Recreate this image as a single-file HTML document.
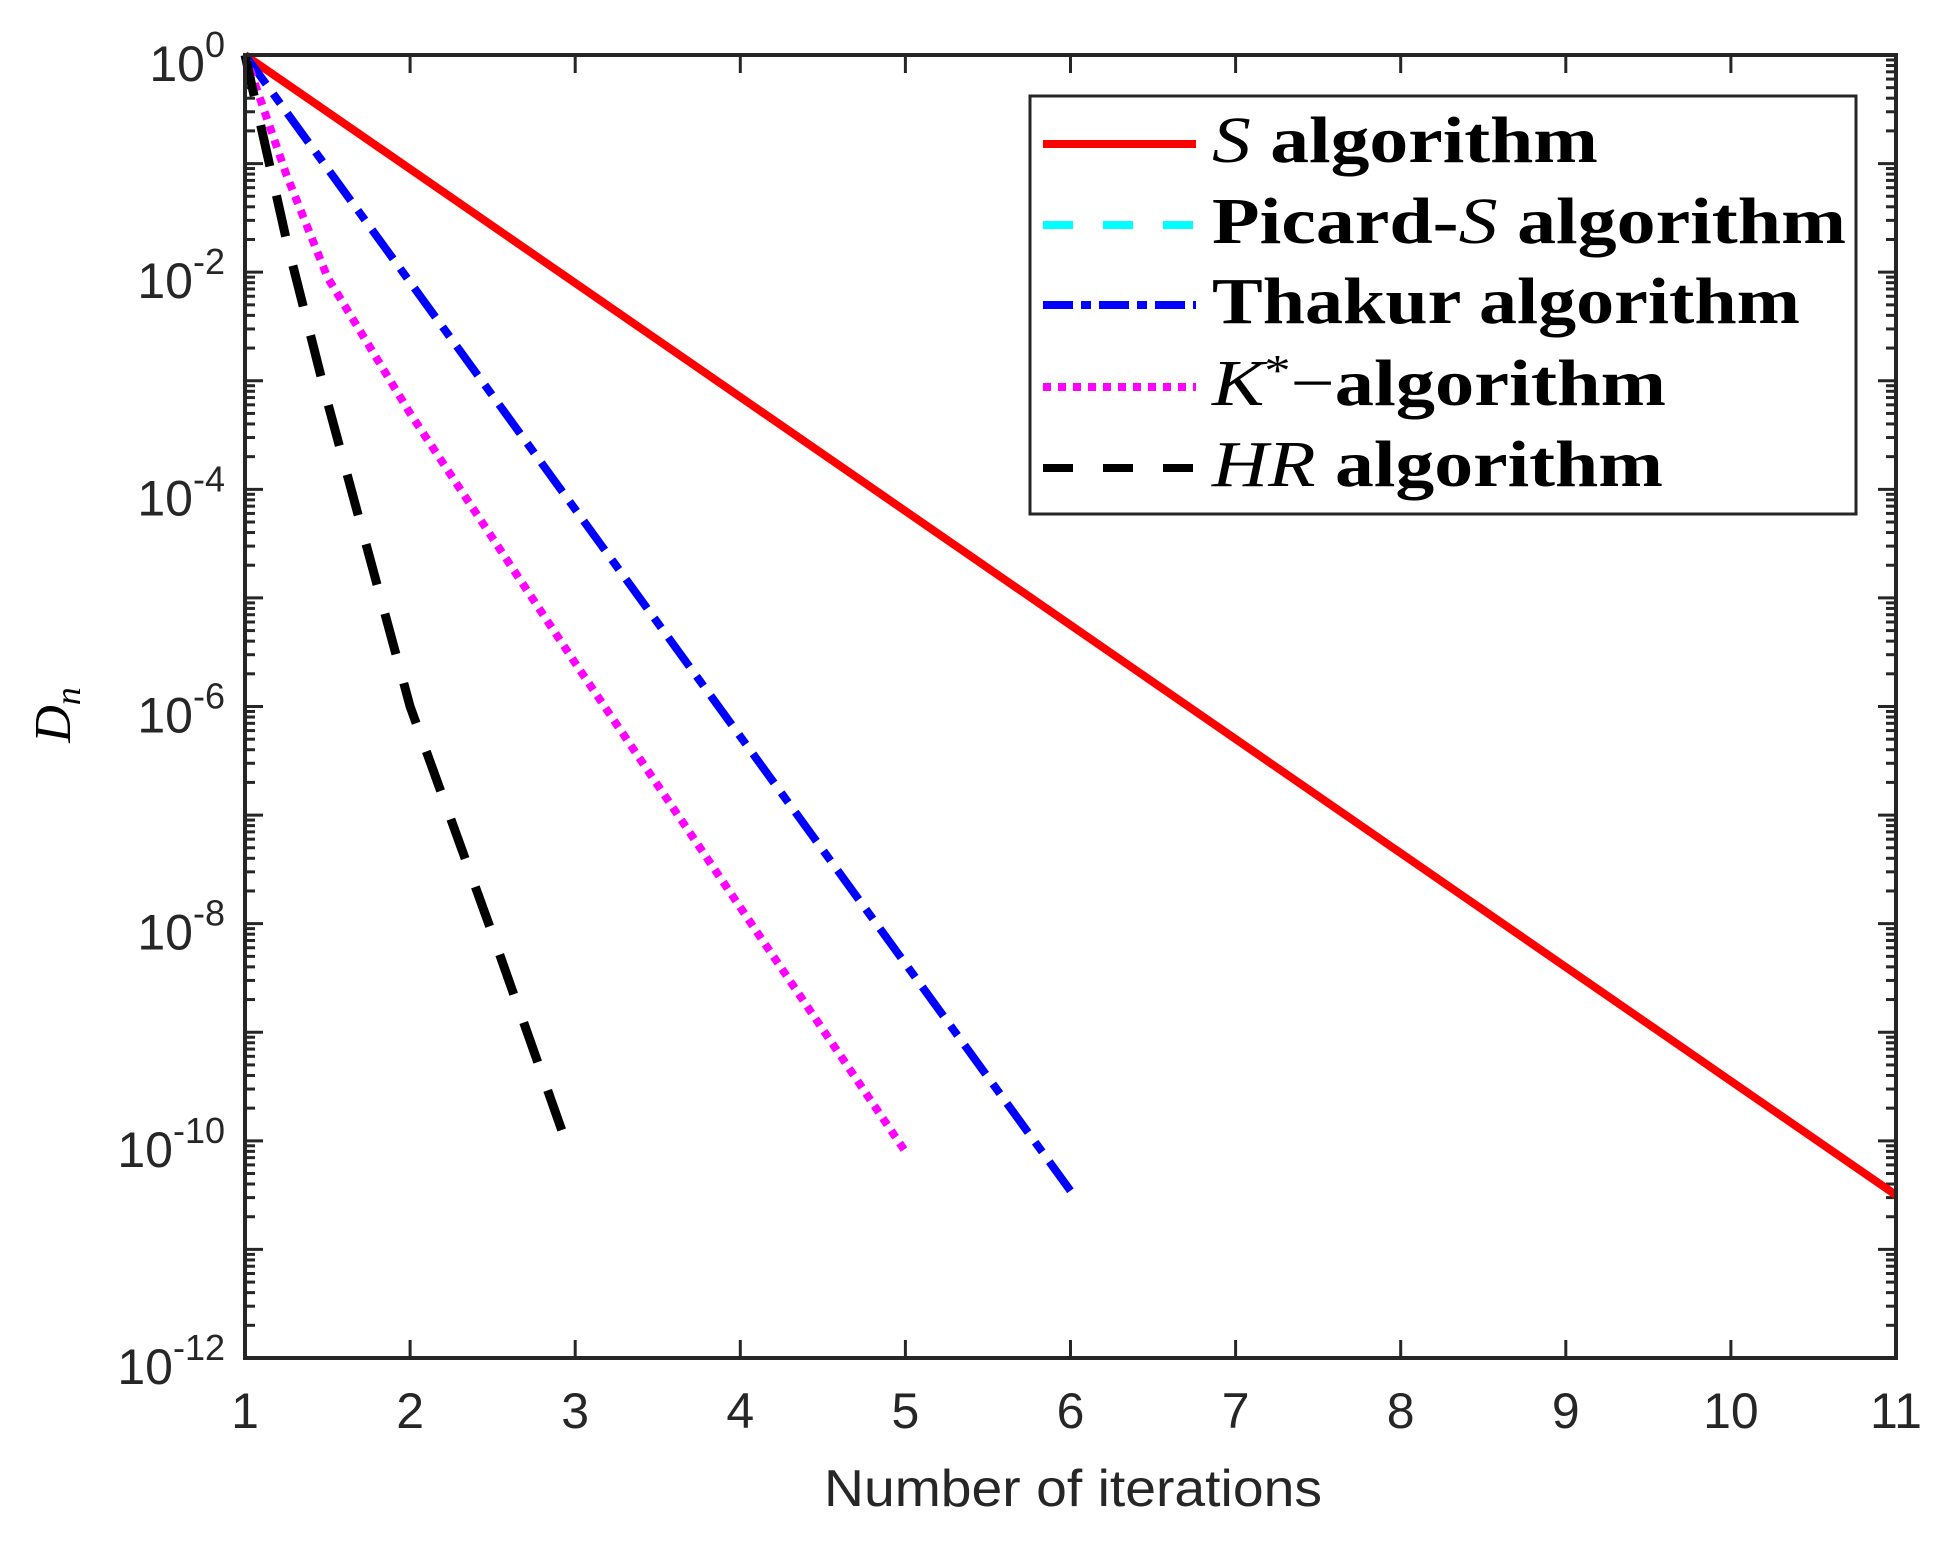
<!DOCTYPE html>
<html><head><meta charset="utf-8"><style>html,body{margin:0;padding:0;background:#fff}</style></head>
<body>
<svg width="1942" height="1544" viewBox="0 0 1942 1544" xmlns="http://www.w3.org/2000/svg">
<rect width="1942" height="1544" fill="#fff"/>
<g id="ticks" stroke="#262626" stroke-width="3" fill="none"></g>
<g fill="none" stroke-linejoin="round">
<polyline id="s" stroke="#ff0000" stroke-width="8"/>
<polyline id="t" stroke="#0000ff" stroke-width="8" stroke-dasharray="36,12,12,12"/>
<polyline id="k" stroke="#ff00ff" stroke-width="8" stroke-dasharray="8,7"/>
<polyline id="h" stroke="#000000" stroke-width="9" stroke-dasharray="42,30"/>
</g>
<rect x="245" y="55" width="1651" height="1303" fill="none" stroke="#262626" stroke-width="4"/>
<g id="labels" font-family="Liberation Sans, Arial, sans-serif" fill="#262626"></g>
<text x="1073" y="1506" font-family="Liberation Sans, Arial, sans-serif" font-size="52" fill="#262626" text-anchor="middle" textLength="498" lengthAdjust="spacingAndGlyphs">Number of iterations</text>
<text transform="translate(70,715) rotate(-90)" font-family="Liberation Serif, serif" font-style="italic" font-size="52" fill="#000" text-anchor="middle">D<tspan font-size="36" dy="10">n</tspan></text>
<rect x="1030" y="96" width="826" height="418" fill="#fff" stroke="#262626" stroke-width="3"/>
<g stroke-width="8">
<line x1="1043" y1="144" x2="1196" y2="144" stroke="#ff0000"/>
<line x1="1043" y1="225" x2="1196" y2="225" stroke="#00ffff" stroke-dasharray="30,30"/>
<line x1="1043" y1="305" x2="1196" y2="305" stroke="#0000ff" stroke-dasharray="30,8,10,8"/>
<line x1="1043" y1="387" x2="1196" y2="387" stroke="#ff00ff" stroke-dasharray="8,7"/>
<line x1="1043" y1="468" x2="1196" y2="468" stroke="#000" stroke-dasharray="30,30"/>
</g>
<g font-family="Liberation Serif, serif" font-weight="bold" font-size="66" fill="#000">
<text x="1212" y="162" textLength="386" lengthAdjust="spacingAndGlyphs"><tspan font-style="italic" font-weight="normal">S</tspan> algorithm</text>
<text x="1212" y="243" textLength="634" lengthAdjust="spacingAndGlyphs">Picard-<tspan font-style="italic" font-weight="normal">S</tspan> algorithm</text>
<text x="1212" y="323" textLength="588" lengthAdjust="spacingAndGlyphs">Thakur algorithm</text>
<text x="1212" y="405" textLength="454" lengthAdjust="spacingAndGlyphs"><tspan font-style="italic" font-weight="normal">K</tspan><tspan font-weight="normal" font-size="44" dy="-20">*</tspan><tspan dy="20" font-weight="normal">−</tspan>algorithm</text>
<text x="1212" y="486" textLength="451" lengthAdjust="spacingAndGlyphs"><tspan font-style="italic" font-weight="normal">HR</tspan> algorithm</text>
</g>
</svg>
<script>
var X=function(x){return 245+(x-1)*165.1}, Y=function(d){return 55+d*108.583};
function pts(a){return a.map(function(p){return X(p[0]).toFixed(1)+','+Y(p[1]).toFixed(1)}).join(' ')}
document.getElementById('s').setAttribute('points',pts([[1,0],[11,10.5]]));
document.getElementById('t').setAttribute('points',pts([[1,0],[6,10.46]]));
document.getElementById('k').setAttribute('points',pts([[1,0],[1.25,1.1],[1.5,2.05],[2,3.3],[2.5,4.45],[3,5.6],[4,7.85],[5,10.1]]));
document.getElementById('h').setAttribute('points',pts([[1,0],[1.25,1.7],[1.5,3.2],[2,6.0],[2.5,8.1],[2.93,9.95]]));
var tk=document.getElementById('ticks'),lb=document.getElementById('labels'),ns='http://www.w3.org/2000/svg';
function ln(x1,y1,x2,y2){var l=document.createElementNS(ns,'line');l.setAttribute('x1',x1);l.setAttribute('y1',y1);l.setAttribute('x2',x2);l.setAttribute('y2',y2);tk.appendChild(l);}
for(var i=1;i<=11;i++){var x=X(i);ln(x,1358,x,1340);ln(x,55,x,73);
 var t=document.createElementNS(ns,'text');t.setAttribute('x',x);t.setAttribute('y',1428);t.setAttribute('font-size','50');t.setAttribute('text-anchor','middle');t.textContent=i;lb.appendChild(t);}
for(var d=0;d<=12;d++){var y=Y(d);ln(245,y,263,y);ln(1896,y,1878,y);
 if(d<12){for(var m=2;m<=9;m++){var yy=Y(d+1-Math.log10(m));ln(245,yy,255,yy);ln(1896,yy,1886,yy);}}
 var t=document.createElementNS(ns,'text');t.setAttribute('x',225);t.setAttribute('y',y+26);t.setAttribute('text-anchor','end');
 t.innerHTML='<tspan font-size="50">10</tspan><tspan font-size="36" dy="-24">'+(d==0?'0':'-'+d)+'</tspan>';
 if(d%2==0)lb.appendChild(t);}
</script>
</body></html>
